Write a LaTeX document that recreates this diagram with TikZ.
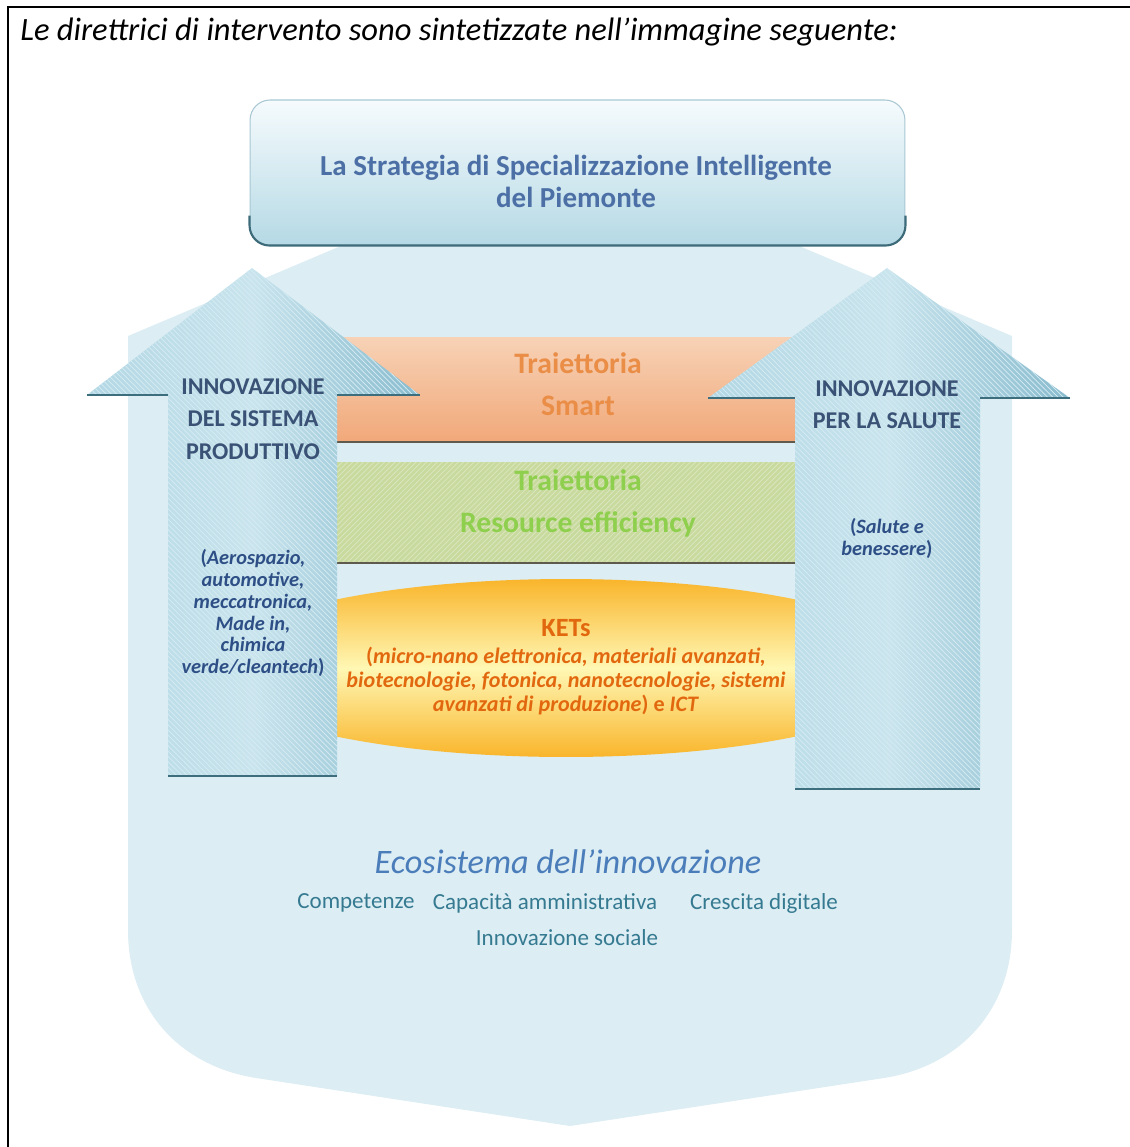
\documentclass[tikz,border=0pt]{standalone}
\usepackage{fontspec}
\setmainfont{Carlito}
\usepackage{tikz}
\usetikzlibrary{patterns}
\definecolor{PiemBack}{HTML}{DCEDF4}
\definecolor{PiemBoxTop}{HTML}{F6FBFD}
\definecolor{PiemBoxBot}{HTML}{B5D9E5}
\definecolor{PiemBoxEdge}{HTML}{A8C7D3}
\definecolor{PiemBoxRim}{HTML}{3E6B7A}
\definecolor{PiemBoxText}{HTML}{4C6FA6}
\definecolor{PiemArrowSide}{HTML}{B2D7E4}
\definecolor{PiemArrowMid}{HTML}{C9E4ED}
\definecolor{PiemArrowDeep}{HTML}{88BBCE}
\definecolor{PiemArrowHatch}{HTML}{D6ECF3}
\definecolor{PiemArrowRim}{HTML}{3D6E7E}
\definecolor{PiemCaps}{HTML}{3A5275}
\definecolor{PiemList}{HTML}{2E4F86}
\definecolor{PiemSmartTop}{HTML}{F7D2B6}
\definecolor{PiemSmartBot}{HTML}{F1A879}
\definecolor{PiemSmartText}{HTML}{E98D47}
\definecolor{PiemGreen}{HTML}{C9DA9F}
\definecolor{PiemGreenHatch}{HTML}{DCE7C0}
\definecolor{PiemGreenText}{HTML}{8FCF4E}
\definecolor{PiemBandRim}{HTML}{5E5A4E}
\definecolor{PiemKetRim}{HTML}{F9B52B}
\definecolor{PiemKetCore}{HTML}{FFF7B4}
\definecolor{PiemKetText}{HTML}{E2680F}
\definecolor{PiemEcoTitle}{HTML}{4A7DB9}
\definecolor{PiemEcoItem}{HTML}{357A90}

\begin{document}
\begin{tikzpicture}[
  x=0.02cm, y=-0.02cm,
  frameline/.style={draw=black, line width=1.1pt},
  titlelbl/.style={font=\fontsize{18.5}{22}\selectfont\itshape, inner sep=0pt},
  stratbox/.style={draw=PiemBoxEdge, line width=0.6pt, top color=PiemBoxTop, bottom color=PiemBoxBot, rounded corners=0.4cm, minimum width=13.1cm, minimum height=2.9cm},
  stratlbl/.style={font=\fontsize{16.5}{18.2}\selectfont\bfseries, text=PiemBoxText, align=center},
  boxrim/.style={draw=PiemBoxRim, line width=1.2pt, rounded corners=0.4cm},
  arrowbody/.style={left color=PiemArrowSide, right color=PiemArrowDeep, middle color=PiemArrowMid, postaction={pattern=north west lines, pattern color=PiemArrowHatch}},
  arrowrim/.style={draw=PiemArrowRim, line width=1.2pt},
  capslbl/.style={font=\fontsize{13.7}{18.4}\selectfont\bfseries, text=PiemCaps, align=center},
  listlbl/.style={font=\fontsize{11.6}{12.5}\selectfont\bfseries, text=PiemList, align=center},
  bandrim/.style={draw=PiemBandRim, line width=0.6pt},
  bandlbl/.style={font=\fontsize{16.9}{23.8}\selectfont\bfseries, align=center},
  ketlbl/.style={font=\fontsize{12.6}{13.7}\selectfont\bfseries, text=PiemKetText, align=center},
  ecolbl/.style={font=\fontsize{13.1}{15}\selectfont, text=PiemEcoItem}
]
\useasboundingbox (0,0) rectangle (1130,1147);
\draw[frameline] (8,1147) -- (8,7) -- (1130,7);
\node[titlelbl, anchor=base west] (title) at (20,40) {Le direttrici di intervento sono sintetizzate nell’immagine seguente:};

% ecosystem backdrop
\fill[PiemBack] (128,336) -- (355,240) -- (785,240) -- (1012,336) -- (1012,930)
  .. controls (1012,1010) and (960,1066) .. (884,1078) -- (570,1126) -- (256,1078)
  .. controls (180,1066) and (128,1010) .. (128,930) -- cycle;

% strategy box
\node[stratbox] (strat) at (577.5,172.5) {};
\draw[boxrim] ([yshift=0.6cm]strat.south west) -- (strat.south west) -- (strat.south east) -- ([yshift=0.6cm]strat.south east);
\node[stratlbl] (stratlbl) at (576,181) {La Strategia di Specializzazione Intelligente\\del Piemonte};

% trajectories
\shade[top color=PiemSmartTop, bottom color=PiemSmartBot] (300,337) rectangle (850,442);
\draw[bandrim] (300,442) -- (850,442);
\fill[PiemGreen, postaction={pattern=north east lines, pattern color=PiemGreenHatch}] (300,462) rectangle (850,563);
\draw[bandrim] (300,563) -- (850,563);
\node[bandlbl, text=PiemSmartText] (smartlbl) at (578,384) {Traiettoria\\Smart};
\node[bandlbl, text=PiemGreenText] (resourcelbl) at (578,503) {Traiettoria\\Resource efficiency};

% KETs
\shade[top color=PiemKetRim, bottom color=PiemKetRim, middle color=PiemKetCore] (566,668) ellipse [x radius=7.2cm, y radius=1.78cm];
\node[ketlbl, font=\fontsize{15}{16}\selectfont\bfseries] (kets) at (566,628) {KETs};
\node[ketlbl] (ketdesc) at (566,681) {(\textit{micro-nano elettronica, materiali avanzati,}\\\textit{biotecnologie, fotonica, nanotecnologie, sistemi}\\\textit{avanzati di produzione}) e \textit{ICT}};

% arrows
\path[arrowbody] (252,268) -- (420,395) -- (337,395) -- (337,776) -- (168,776) -- (168,395) -- (87,395) -- cycle;
\draw[arrowrim] (87,395) -- (168,395) (337,395) -- (420,395) (168,776) -- (337,776);
\path[arrowbody] (887,268) -- (1070,398) -- (980,398) -- (980,789) -- (795,789) -- (795,398) -- (708,398) -- cycle;
\draw[arrowrim] (708,398) -- (795,398) (980,398) -- (1070,398) (795,789) -- (980,789);

\node[capslbl] (prodcaps) at (253,419) {INNOVAZIONE\\DEL SISTEMA\\PRODUTTIVO};
\node[listlbl] (prodlist) at (253,613) {(\textit{Aerospazio,}\\\textit{automotive,}\\\textit{meccatronica,}\\\textit{Made in,}\\\textit{chimica}\\\textit{verde/cleantech})};
\node[capslbl] (salcaps) at (887,405) {INNOVAZIONE\\PER LA SALUTE};
\node[listlbl] (sallist) at (887,538) {(\textit{Salute e}\\\textit{benessere})};

% ecosystem
\node[font=\fontsize{19.5}{22}\selectfont\itshape, text=PiemEcoTitle] (ecotitle) at (568,862) {Ecosistema dell’innovazione};
\foreach \nm/\px/\py/\txt in {
  comp/356/903/Competenze,
  capac/545/903/{Capacità amministrativa},
  cresc/764/903/{Crescita digitale},
  social/567/938/{Innovazione sociale}
}{
  \node[ecolbl] (\nm) at (\px,\py) {\txt};
}
\end{tikzpicture}
\end{document}
